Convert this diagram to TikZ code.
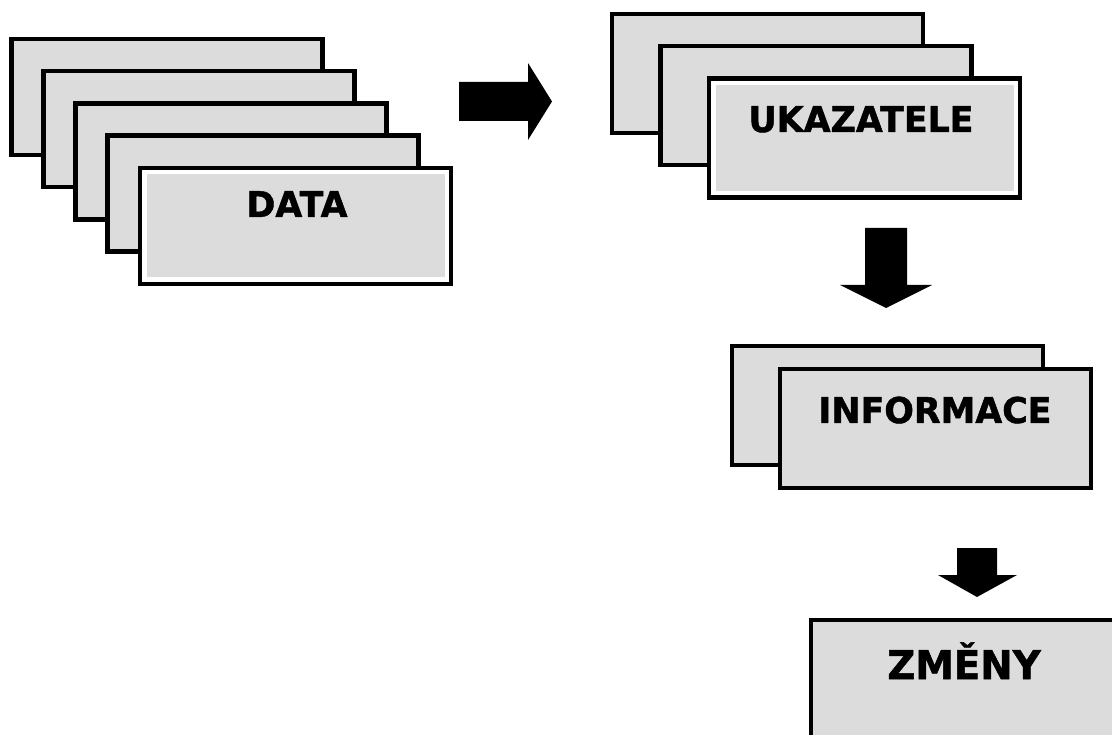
\documentclass[tikz,border=0pt]{standalone}
\usepackage{fontspec}
\newfontfamily\lblfont{DejaVu Sans}[FakeStretch=0.98, FakeBold=1.3]
\definecolor{boxgray}{RGB}{220,220,220}
\begin{document}
\begin{tikzpicture}[x=1pt,y=-1pt,
  card/.style={rectangle, draw=black, line width=4.5pt, fill=boxgray,
    minimum width=311pt, inner sep=0pt, outer sep=0pt},
  front/.style={card, path picture={\draw[white, line width=13pt]
    (path picture bounding box.south west) rectangle (path picture bounding box.north east);}},
  lbl/.style={anchor=base, inner sep=0pt, font=\lblfont\bfseries\fontsize{35.5}{41}\selectfont},
  bigarrow/.style={fill=black}
]
\useasboundingbox (0,0) rectangle (1112,735);
\clip (0,0) rectangle (1112,735);

% DATA stack
\node[card, minimum height=116pt] (d1) at (167,97) {};
\node[card, minimum height=116pt] (d2) at (199,129.25) {};
\node[card, minimum height=116pt] (d3) at (231,161.5) {};
\node[card, minimum height=116pt] (d4) at (263,193.75) {};
\node[front, minimum height=116pt] (d5) at (295.5,226) {};
\node[lbl] (dt) at (297,217) {DATA};

% arrow right
\fill[bigarrow] (459,82) -- (528,82) -- (528,63) -- (552,101.5) -- (528,140) -- (528,121) -- (459,121) -- cycle;

% UKAZATELE stack
\node[card, minimum height=119pt] (u1) at (767.5,73.5) {};
\node[card, minimum height=119pt] (u2) at (816,105.75) {};
\node[front, minimum height=119pt] (u3) at (864.5,138) {};
\node[lbl] (ut) at (861,132) {UKAZATELE};

% arrow down 1
\fill[bigarrow] (865,228) -- (907,228) -- (907,285) -- (932,285) -- (886,308) -- (840,285) -- (865,285) -- cycle;

% INFORMACE stack
\node[card, minimum height=119pt] (i1) at (887.5,405.5) {};
\node[card, minimum height=119pt] (i2) at (935.5,428.5) {};
\node[lbl] (it) at (935,423) {INFORMACE};

% arrow down 2
\fill[bigarrow] (957,548) -- (997,548) -- (997,575) -- (1017,575) -- (977,597) -- (938,575) -- (957,575) -- cycle;

% ZMENY
\node[card, minimum height=119pt] (z) at (966.5,679.5) {};
\node[lbl, font=\lblfont\bfseries\fontsize{39.5}{46}\selectfont] (zt) at (964,679) {ZMĚNY};
\end{tikzpicture}
\end{document}
